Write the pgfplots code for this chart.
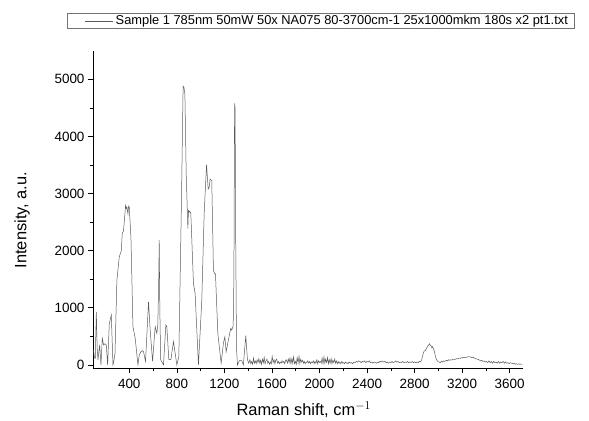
\documentclass[border=0pt]{standalone}
\usepackage{fontspec}
\setmainfont{Liberation Sans}
\usepackage{pgfplots}
\pgfplotsset{compat=1.18}
\begin{document}
\begin{tikzpicture}
\begin{axis}[
  at={(0,0)}, anchor=south west,
  scale only axis, width=430bp, height=317.5bp,
  xmin=95, xmax=3712, ymin=-60, ymax=5500,
  axis lines=left, axis line style={-, line width=0.6pt},
  tick align=outside, major tick length=5bp, minor tick length=3bp,
  tick style={line width=0.6pt, black},
  xtick={400,800,...,3600}, ytick={0,1000,...,5000},
  minor x tick num=1, minor y tick num=1,
  /pgf/number format/assume math mode=true,
  /pgf/number format/1000 sep={},
  tick label style={font=\fontsize{13.5}{15}\selectfont},
  xticklabel style={yshift=-2bp},
  xlabel={Raman shift, cm$^{-1}$},
  ylabel={Intensity, a.u.},
  label style={font=\fontsize{16.5}{18}\selectfont},
  xlabel style={at={(axis description cs:0.49,-0.131)}, anchor=center},
  ylabel style={at={(axis description cs:-0.165,0.467)}, anchor=center},
  legend style={at={(axis description cs:-0.0605,1.119)}, anchor=north west,
    draw=black!55, line width=0.5pt, font=\fontsize{12.9}{13.5}\selectfont,
    inner xsep=4bp, inner ysep=0.3bp},
  legend cell align=left,
  legend image code/.code={\path (0bp,0bp); \draw[#1] (14bp,0bp) -- (42bp,0bp);},
]
\addplot[black!65, line width=0.5pt] coordinates {
(100,260)(107,120)(114,115)(123,930)(130,300)(137,90)(151,350)(162,0)(173,465)(184,350)(196,370)(207,350)(218,0)
(232,725)(249,870)(263,0)(270,60)(280,200)(296,1480)(316,1890)(333,2000)(341,2300)(352,2350)(369,2790)
(375,2740)(380,2760)(389,2645)(394,2780)(400,2760)(414,2240)(431,670)(450,465)(473,0)(484,175)(498,230)
(510,250)(520,230)(537,60)(562,1105)(576,610)(596,60)(618,670)(632,550)(640,700)(648,1500)(652,2190)
(657,1000)(664,90)(688,0)(708,700)(716,670)(733,90)(750,90)(772,410)(800,0)(817,145)(840,3000)(853,4880)
(860,4860)(868,4740)(879,3340)(893,2385)(898,2700)(904,2675)(910,2690)(918,2645)(940,1425)(954,1250)
(982,0)(1010,1130)(1030,2645)(1050,3505)(1064,3080)(1072,3100)(1080,3255)(1094,3225)(1108,1655)(1118,1600)
(1125,1600)(1145,550)(1173,30)(1192,380)(1204,490)(1215,230)(1234,435)(1254,640)(1262,610)(1274,680)
(1280,1500)(1286,4580)(1290,4500)(1296,2000)(1302,300)(1310,0)(1327,75)(1346,75)(1360,0)(1380,510)
(1394,90)(1405,30)
(1415,90)(1422,20)(1430,60)(1438,10)(1445,120)(1452,30)(1460,70)(1468,20)(1475,90)(1483,40)(1490,110)
(1498,30)(1505,80)(1512,10)(1520,100)(1528,40)(1535,130)(1542,20)(1550,70)(1558,100)(1565,30)(1572,60)
(1580,10)(1588,50)(1595,20)(1602,150)(1610,40)(1618,90)(1625,20)(1632,80)(1640,100)(1648,30)(1655,60)
(1662,20)(1670,50)(1678,30)(1685,70)(1692,40)(1700,60)(1708,20)(1715,80)(1722,90)(1730,30)(1738,100)
(1745,40)(1752,120)(1760,20)(1768,110)(1775,30)(1782,140)(1790,20)(1798,60)(1805,10)(1812,130)(1820,30)
(1828,150)(1835,20)(1842,100)(1850,50)(1858,80)(1865,30)(1872,60)(1880,20)(1888,50)(1895,40)(1902,70)
(1910,30)(1918,60)(1925,20)(1932,50)(1940,40)(1948,70)(1955,20)(1962,60)(1970,30)(1978,90)(1985,20)
(1992,70)(2000,40)(2008,60)(2015,30)(2022,120)(2030,20)(2038,140)(2045,30)(2052,100)(2060,40)(2068,130)
(2075,20)(2082,90)(2090,30)(2098,110)(2105,20)(2112,80)(2120,40)(2128,100)(2135,30)(2142,70)(2150,20)
(2158,60)(2165,30)(2172,50)(2180,20)(2188,60)(2195,30)(2202,40)(2210,20)(2218,50)(2225,30)(2232,40)
(2240,20)(2250,50)(2260,30)(2270,40)(2280,20)(2290,50)(2300,40)(2310,60)(2320,50)(2330,70)(2340,60)
(2350,40)(2360,60)(2370,50)(2380,70)(2390,40)(2400,60)(2410,50)(2420,70)(2430,40)(2440,50)(2450,30)
(2460,50)(2470,40)(2480,30)(2490,50)(2500,40)(2510,60)(2520,50)(2530,70)(2540,50)(2550,60)(2560,40)
(2570,50)(2580,30)(2590,50)(2600,40)(2610,60)(2620,40)(2630,50)(2640,70)(2650,50)(2660,60)(2670,40)
(2680,50)(2690,40)(2700,60)(2710,40)(2720,50)(2730,40)(2740,60)(2750,40)(2760,50)(2770,40)(2780,60)
(2790,40)(2800,50)(2810,40)(2820,50)(2830,40)(2840,60)(2850,50)(2860,90)(2870,180)(2880,240)(2890,250)
(2900,290)(2910,330)(2920,350)(2925,370)(2930,350)(2940,330)(2945,300)(2950,320)(2955,300)(2965,250)
(2975,150)(2985,90)(2995,60)(3005,50)(3015,40)(3025,60)(3035,50)(3045,70)(3055,60)(3065,80)(3075,70)
(3085,90)(3095,80)(3105,90)(3115,85)(3125,100)(3135,95)(3145,100)(3155,110)(3165,105)(3175,120)(3185,115)
(3195,125)(3205,130)(3215,125)(3225,135)(3235,130)(3245,140)(3255,145)(3265,140)(3275,135)(3285,125)
(3295,130)(3305,115)(3315,110)(3325,100)(3335,95)(3345,85)(3355,70)(3365,80)(3375,60)(3385,70)(3395,50)
(3405,60)(3415,40)(3425,70)(3435,40)(3445,60)(3455,30)(3465,60)(3475,40)(3485,50)(3495,30)(3505,60)
(3515,30)(3525,50)(3535,40)(3545,60)(3555,30)(3565,50)(3575,30)(3585,40)(3595,20)(3605,40)(3615,30)
(3625,20)(3635,30)(3645,10)(3655,20)(3665,10)(3675,20)(3685,10)(3695,15)(3705,10)
};
\addlegendentry{Sample 1 785nm 50mW 50x NA075 80-3700cm-1 25x1000mkm 180s x2 pt1.txt}
\end{axis}
\pgfresetboundingbox
\path[use as bounding box] (-93bp,-52.7bp) rectangle (496bp,368.3bp);
\end{tikzpicture}
\end{document}
